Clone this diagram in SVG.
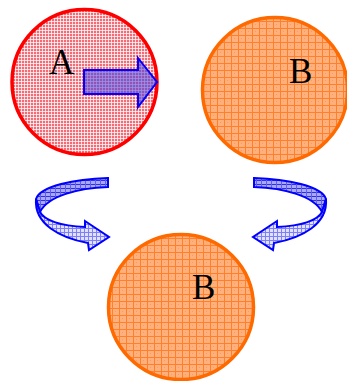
<svg xmlns="http://www.w3.org/2000/svg" width="347" height="381" viewBox="0 0 347 381">
<style>
.lbl{font-family:"Liberation Serif","Times New Roman",serif;font-size:35px;fill:#000}
.arr{stroke:#0000ff;stroke-width:2;stroke-linejoin:miter}
</style>
<defs>
<pattern id="pink" width="3" height="3" patternUnits="userSpaceOnUse">
<rect width="3" height="3" fill="#f56a74"/>
<rect width="3" height="1" fill="#ffffff" opacity="0.75"/>
<rect width="1" height="3" fill="#ffffff" opacity="0.75"/>
</pattern>
<pattern id="orange" width="7" height="7" patternUnits="userSpaceOnUse">
<rect width="7" height="7" fill="#ffb07c"/>
<rect x="3" y="3" width="1" height="1" fill="#ff9a5a"/>
<rect width="7" height="1" fill="#ff7f2a"/>
<rect width="1" height="7" fill="#ff7f2a"/>
</pattern>
<pattern id="blueDark" width="5" height="4" patternUnits="userSpaceOnUse">
<rect width="5" height="4" fill="#a8a8f6"/>
<rect width="5" height="1" fill="#3030e6"/>
<rect width="1" height="4" fill="#6060f0"/>
</pattern>
<pattern id="blueLight" width="4" height="4" patternUnits="userSpaceOnUse">
<rect width="4" height="4" fill="#e0e0ff"/>
<rect width="4" height="1" fill="#8080f6"/>
<rect width="1" height="4" fill="#8080f6"/>
</pattern>
<g id="curvedArrow">
<path class="arr" fill="url(#blueDark)" d="M108,178 L108,187 C78,188 48,196 40,212 L36,199 C40,186 75,179 108,178 Z"/>
<path class="arr" fill="url(#blueLight)" d="M36,199 C34,224 60,238 88,243 L89,250 L109,237 L85,221 L85,227 C60,226 44,220 40,212 Z"/>
</g>
</defs>
<g id="nodeA">
<circle cx="84.5" cy="82" r="72.5" fill="url(#pink)" stroke="#ff0000" stroke-width="3.5"/>
<text class="lbl" x="49" y="74">A</text>
<path class="arr" fill="#4040e8" fill-opacity="0.55" d="M84,70 L138,70 L138,58 L157,82 L138,107 L138,94 L84,94 Z"/>
</g>
<g id="nodeB1">
<circle cx="275" cy="90" r="72.5" fill="url(#orange)" stroke="#ff6a00" stroke-width="3.5"/>
<text class="lbl" x="289" y="83">B</text>
</g>
<g id="nodeB2">
<circle cx="181" cy="307" r="72.5" fill="url(#orange)" stroke="#ff6a00" stroke-width="3.5"/>
<text class="lbl" x="192" y="299">B</text>
</g>
<g id="connectors">
<use href="#curvedArrow"/>
<use href="#curvedArrow" transform="translate(362,0) scale(-1,1)"/>
</g>
</svg>
